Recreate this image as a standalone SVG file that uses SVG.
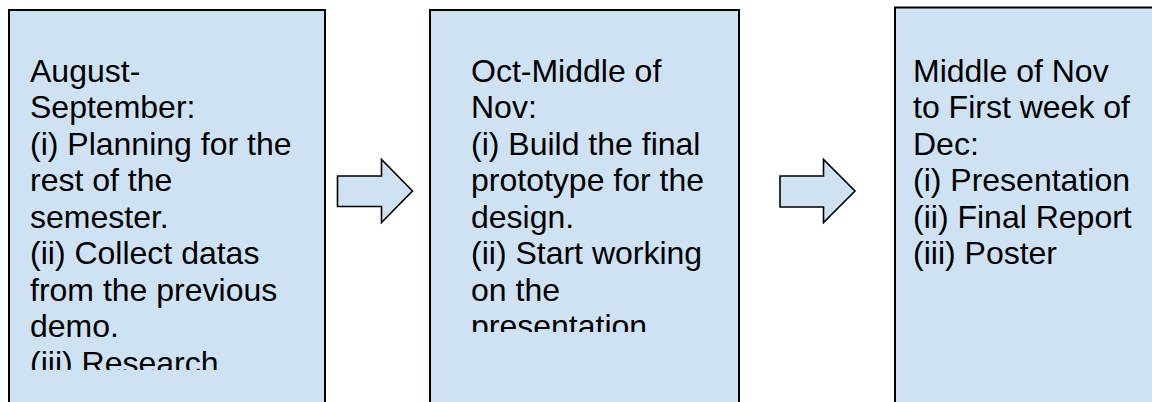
<svg xmlns="http://www.w3.org/2000/svg" width="1152" height="402" viewBox="0 0 1152 402">
  <style>
    .box { fill: #cfe2f3; stroke: #000; stroke-width: 2; }
    .arrow { fill: #cfe2f3; stroke: #000; stroke-width: 1.6; stroke-linejoin: miter; }
    .t { font-family: "Liberation Sans", Arial, sans-serif; font-size: 32px; fill: #000; }
  </style>
  <defs>
    <clipPath id="clip1"><rect x="0" y="0" width="330" height="370"/></clipPath>
    <clipPath id="clip2"><rect x="430" y="0" width="310" height="332"/></clipPath>
  </defs>
  <rect width="1152" height="402" fill="#fff"/>
  <g id="node1">
    <rect class="box" x="9" y="10" width="316" height="420"/>
    <text class="t" clip-path="url(#clip1)">
      <tspan x="30" y="81.7">August-</tspan>
      <tspan x="30" y="118.2">September:</tspan>
      <tspan x="30" y="154.7">(i) Planning for the</tspan>
      <tspan x="30" y="191.2">rest of the</tspan>
      <tspan x="30" y="227.7">semester.</tspan>
      <tspan x="30" y="264.2">(ii) Collect datas</tspan>
      <tspan x="30" y="300.7">from the previous</tspan>
      <tspan x="30" y="337.2">demo.</tspan>
      <tspan x="30" y="373.7">(iii) Research</tspan>
    </text>
  </g>
  <g id="node2">
    <rect class="box" x="430" y="10" width="309" height="420"/>
    <text class="t" clip-path="url(#clip2)">
      <tspan x="471" y="81.7">Oct-Middle of</tspan>
      <tspan x="471" y="118.2">Nov:</tspan>
      <tspan x="471" y="154.7">(i) Build the final</tspan>
      <tspan x="471" y="191.2">prototype for the</tspan>
      <tspan x="471" y="227.7">design.</tspan>
      <tspan x="471" y="264.2">(ii) Start working</tspan>
      <tspan x="471" y="300.7">on the</tspan>
      <tspan x="471" y="337.2">presentation</tspan>
    </text>
  </g>
  <g id="node3">
    <rect class="box" x="895" y="7.5" width="300" height="420"/>
    <text class="t">
      <tspan x="913" y="81.7">Middle of Nov</tspan>
      <tspan x="913" y="118.2">to First week of</tspan>
      <tspan x="913" y="154.7">Dec:</tspan>
      <tspan x="913" y="191.2">(i) Presentation</tspan>
      <tspan x="913" y="227.7">(ii) Final Report</tspan>
      <tspan x="913" y="264.2">(iii) Poster</tspan>
    </text>
  </g>
  <g id="connectors">
    <path class="arrow" d="M337.5,176 L381.5,176 L381.5,159.5 L412.5,191 L381.5,222.5 L381.5,206.5 L337.5,206.5 Z"/>
    <path class="arrow" d="M780,176 L823.5,176 L823.5,159.5 L855,191 L823.5,222.5 L823.5,207 L780,207 Z"/>
  </g>
</svg>
